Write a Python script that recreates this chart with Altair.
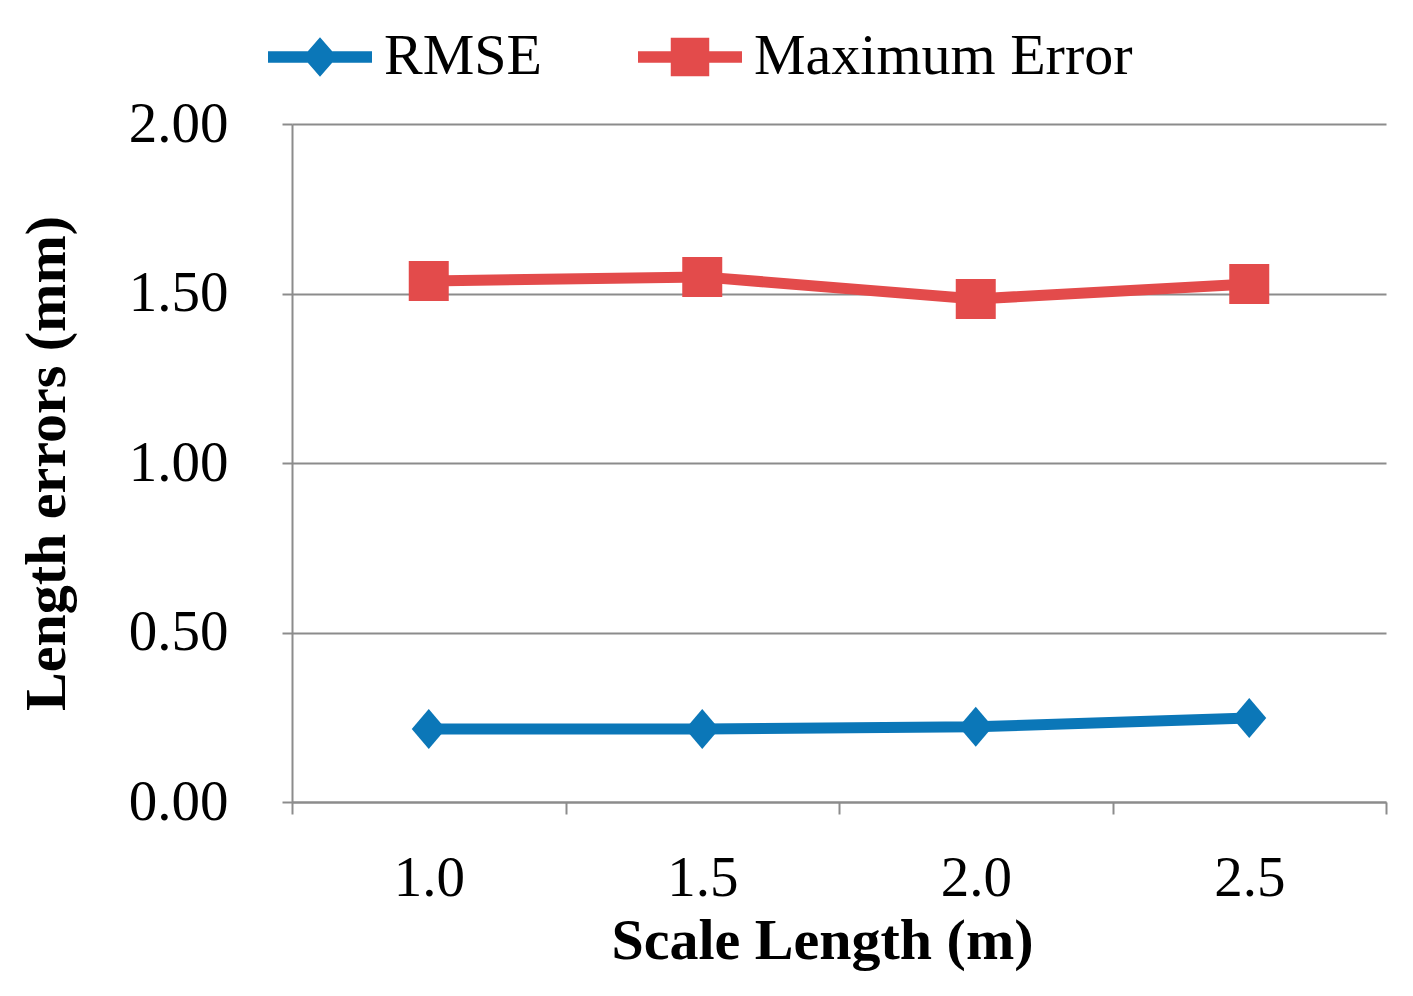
import altair as alt
import pandas as pd

scale_lengths = ["1.0", "1.5", "2.0", "2.5"]
rmse = [0.215, 0.215, 0.222, 0.248]
max_error = [1.537, 1.549, 1.484, 1.528]
series_names = ["RMSE", "Maximum Error"]
series_colors = ["#0B77B8", "#E34B4B"]
y_ticks = [0.0, 0.5, 1.0, 1.5, 2.0]

rows = []
for s, vals in zip(series_names, [rmse, max_error]):
    for x, v in zip(scale_lengths, vals):
        rows.append({"Scale": x, "Series": s, "Value": v})
df = pd.DataFrame(rows)

diamond = "M0,-1L0.85,0L0,1L-0.85,0Z"
square = "M-1,-1L1,-1L1,1L-1,1Z"
leg_diamond = ("M-1,-0.11L-0.234,-0.11L0,-0.38L0.234,-0.11L1,-0.11L1,0.11"
               "L0.234,0.11L0,0.38L-0.234,0.11L-1,0.11Z")
leg_square = ("M-1,-0.11L-0.37,-0.11L-0.37,-0.37L0.37,-0.37L0.37,-0.11L1,-0.11"
              "L1,0.11L0.37,0.11L0.37,0.37L-0.37,0.37L-0.37,0.11L-1,0.11Z")

SERIF = "Liberation Serif"
GRAY = "#8c8c8c"

x_enc = alt.X(
    "Scale:N",
    sort=scale_lengths,
    scale=alt.Scale(type="band", paddingInner=0, paddingOuter=0),
    axis=alt.Axis(
        title="Scale Length (m)",
        tickBand="extent",
        labelAngle=0,
        tickSize=12,
        tickWidth=2,
        tickColor=GRAY,
        domainColor=GRAY,
        domainWidth=2,
        grid=False,
        labelFont=SERIF,
        labelFontSize=57,
        labelColor="black",
        labelPadding=36,
        titleFont=SERIF,
        titleFontSize=58,
        titleFontWeight="bold",
        titleColor="black",
        titlePadding=6,
        titleX=530,
    ),
)
y_enc = alt.Y(
    "Value:Q",
    scale=alt.Scale(domain=[0, 2]),
    axis=alt.Axis(
        title="Length errors (mm)",
        values=y_ticks,
        format=".2f",
        tickSize=10,
        tickWidth=2,
        tickColor=GRAY,
        domainColor=GRAY,
        domainWidth=2,
        gridColor=GRAY,
        gridWidth=2,
        labelFont=SERIF,
        labelFontSize=57,
        labelColor="black",
        labelPadding=54,
        titleFont=SERIF,
        titleFontSize=58,
        titleFontWeight="bold",
        titleColor="black",
        titlePadding=52,
    ),
)

color_scale = alt.Scale(domain=series_names, range=series_colors)

leg = alt.Legend(
    title=None,
    orient="none",
    legendX=-24,
    legendY=-119,
    direction="horizontal",
    padding=0,
    symbolSize=10816,
    symbolOpacity=1,
    symbolStrokeWidth=0,
    labelFont=SERIF,
    labelFontSize=58,
    labelColor="black",
    labelOffset=12,
    columnPadding=96,
    labelLimit=1000,
)

base = alt.Chart(df)

lines = base.mark_line(strokeWidth=11).encode(
    x=x_enc, y=y_enc,
    color=alt.Color("Series:N", scale=color_scale, legend=None),
    detail="Series:N",
)

points = base.mark_point(filled=True, opacity=1, size=1600).encode(
    x=x_enc, y=y_enc,
    color=alt.Color("Series:N", scale=color_scale, legend=None),
    shape=alt.Shape("Series:N", scale=alt.Scale(domain=series_names, range=[diamond, square]), legend=None),
)

legend_layer = base.mark_point(filled=True, opacity=0, size=10).encode(
    x=x_enc, y=y_enc,
    color=alt.Color("Series:N", scale=color_scale, legend=leg),
    shape=alt.Shape("Series:N", scale=alt.Scale(domain=series_names, range=[leg_diamond, leg_square]), legend=leg),
)

chart = (
    alt.layer(lines, points, legend_layer)
    .resolve_scale(shape="independent")
    .resolve_legend(color="independent", shape="independent")
    .properties(
        width=1094,
        height=678,
        padding={"left": 284, "top": 116, "right": 19, "bottom": 178},
        autosize=alt.AutoSizeParams(type="none"),
    )
    .configure(background="white", style={"cell": {"stroke": "transparent", "strokeWidth": 0}})
    .configure_view(stroke="transparent", strokeWidth=0, strokeOpacity=0)
)

chart.save("out.html", embed_options={"renderer": "svg", "actions": False})
